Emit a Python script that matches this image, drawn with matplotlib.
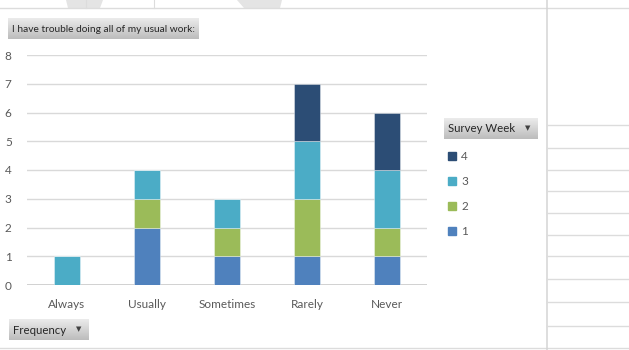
import numpy as np
import matplotlib
matplotlib.use('Agg')
import matplotlib.pyplot as plt
from matplotlib.patches import Patch, Polygon

# data
categories = ['Always', 'Usually', 'Sometimes', 'Rarely', 'Never']
week_labels = ['1', '2', '3', '4']
week1 = [0, 2, 1, 1, 1]
week2 = [0, 1, 1, 2, 1]
week3 = [1, 1, 1, 2, 2]
week4 = [0, 0, 0, 2, 2]
yticks = [0, 1, 2, 3, 4, 5, 6, 7, 8]
title_txt = 'I have trouble doing all of my usual work:'
legend_title = 'Survey Week'
axis_field = 'Frequency'

colors = ['#4F81BD', '#9BBB59', '#4BACC6', '#2C4D75']
txt_col = '#595959'

plt.rcParams['font.family'] = ['Lato', 'DejaVu Sans']

W, H = 629, 350
fig = plt.figure(figsize=(W/100, H/100), dpi=100)

# background layer in pixel coords (y down)
bg = fig.add_axes([0, 0, 1, 1])
bg.axis('off')

def px(l, t, r, b):
    return [l/W, 1-b/H, (r-l)/W, (b-t)/H]

# sheet gridlines / chart border
line_col = '#DCDCDC'
bg.plot([0, W], [8, 8], color=line_col, lw=1)
bg.plot([0, W], [348, 348], color=line_col, lw=1)
bg.plot([546.5, 546.5], [0, H], color='#D4D4D4', lw=1.1)
for xx in [86, 154]:
    bg.plot([xx, xx], [0, 8], color=line_col, lw=0.8)
for yy in [125, 148, 170, 191, 213, 235, 256, 279, 302, 326]:
    bg.plot([547, W], [yy, yy], color=line_col, lw=1)
# faint watermark pieces peeking out at the top
bg.add_patch(Polygon([[66, 0], [103, 0], [100, 8], [68, 8]], closed=True, color='#E4E4E4', lw=0))
bg.add_patch(Polygon([[237, 0], [282, 0], [280, 8], [244, 8]], closed=True, color='#E4E4E4', lw=0))

# gradient "field buttons"
grad = np.linspace(0.92, 0.74, 30).reshape(-1, 1)
def button(l, t, r, b, label, fs, tri=None):
    bg.imshow(grad, cmap='gray', vmin=0, vmax=1, extent=(l, r, b, t),
              aspect='auto', origin='upper', interpolation='bilinear')
    bg.text(l+4, (t+b)/2+0.5, label, ha='left', va='center', fontsize=fs, color='#262626')
    if tri is not None:
        bg.text(tri, (t+b)/2, '\u25BC', ha='center', va='center', fontsize=5,
                color='#404040', family='DejaVu Sans')

button(8, 18, 199, 39, title_txt, 7.25)
button(9, 319, 89, 340, axis_field, 8.2, tri=79)
button(444, 118, 538, 139, legend_title, 8.2, tri=528)
bg.set_xlim(0, W)
bg.set_ylim(H, 0)

# chart
ax = fig.add_axes(px(27, 55, 427, 285))
ax.patch.set_alpha(0)
x = np.arange(len(categories))
series = [week1, week2, week3, week4]
bottom = np.zeros(len(categories))
for s, c, lab in zip(series, colors, week_labels):
    ax.bar(x, s, bottom=bottom, width=0.32, color=c, label=lab,
           edgecolor=(1, 1, 1, 0.45), linewidth=0.6, zorder=3)
    bottom = bottom + np.array(s)

ax.set_xlim(-0.5, len(categories)-0.5)
ax.set_ylim(0, 8)
ax.set_yticks(yticks)
ax.set_xticks(x)
ax.set_xticklabels(categories)
ax.grid(axis='y', color='#D9D9D9', lw=1, zorder=0)
ax.axhline(0, color='#D0D0D0', lw=1.4, zorder=1)
for sp in ax.spines.values():
    sp.set_visible(False)
ax.tick_params(axis='both', length=0, labelsize=8.5, labelcolor=txt_col)
ax.tick_params(axis='y', pad=11)
ax.tick_params(axis='x', pad=10)

handles = [Patch(color=c) for c in colors][::-1]
leg = fig.legend(handles, week_labels[::-1], loc='upper left',
                 bbox_to_anchor=(448/W, 1-151/H), frameon=False,
                 fontsize=8.5, handlelength=0.68, handleheight=0.68,
                 handletextpad=0.45, labelspacing=1.19, borderpad=0, borderaxespad=0)
for t in leg.get_texts():
    t.set_color(txt_col)

fig.savefig('out.png', dpi=100)
